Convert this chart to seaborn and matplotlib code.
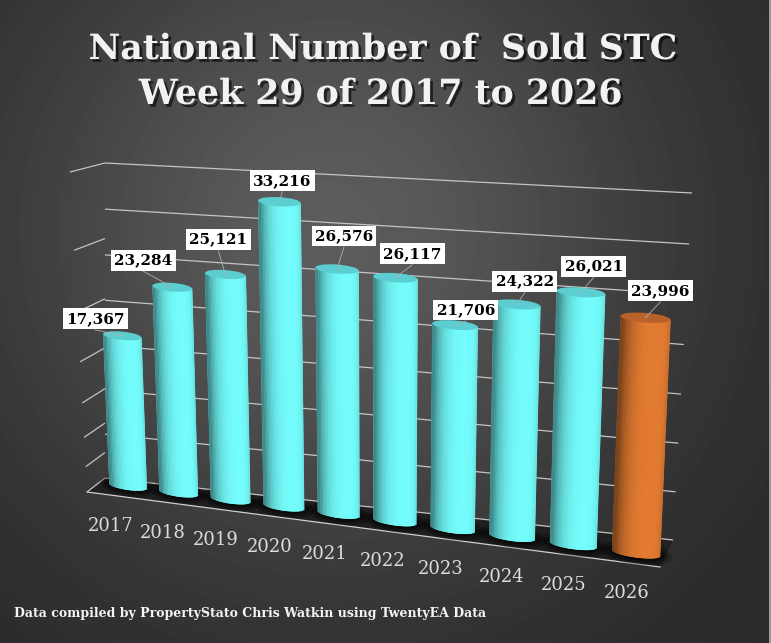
import numpy as np
import seaborn as sns
import matplotlib.pyplot as plt
import matplotlib.colors as mcolors
import matplotlib.transforms as mtransforms
import matplotlib.patheffects as pe
from matplotlib.patches import Ellipse, Rectangle

# Data
YEARS = [2017, 2018, 2019, 2020, 2021, 2022, 2023, 2024, 2025, 2026]
SOLD_STC = [17367, 23284, 25121, 33216, 26576, 26117, 21706, 24322, 26021, 23996]
GRID_LEVELS = [0, 5000, 10000, 15000, 20000, 25000, 30000, 35000]

BAR_COLORS = ['#74fbfb'] * 9 + ['#e27b31']
CAP_COLORS = ['#5ccdd0'] * 9 + ['#b8622a']

W, H = 771, 643
BAR_W = 0.75
EH = 950          # cylinder cap height, in value units
N_STRIPES = 30

# offsets (px) of the value boxes from the top of each cylinder
LABEL_OFFSETS = [(-27, -17), (-29, -27), (-7, -35), (3, -21), (7, -33),
                 (17, -24), (11, -15), (8, -23), (13, -26), (15, -27)]


def homography(src, dst):
    A, b = [], []
    for (x, y), (u, v) in zip(src, dst):
        A.append([x, y, 1, 0, 0, 0, -u * x, -u * y])
        b.append(u)
        A.append([0, 0, 0, x, y, 1, -v * x, -v * y])
        b.append(v)
    h = np.linalg.solve(np.array(A, float), np.array(b, float))
    return np.append(h, 1).reshape(3, 3)


class PlaneTransform(mtransforms.Transform):
    """Perspective mapping of a flat plane of the fake 3D scene to pixels."""
    input_dims = 2
    output_dims = 2
    is_separable = False

    def __init__(self, src, dst):
        super().__init__()
        self.H = homography(src, dst)

    def transform_non_affine(self, values):
        pts = np.atleast_2d(np.asarray(values, dtype=float))
        hom = np.column_stack([pts, np.ones(len(pts))]) @ self.H.T
        return hom[:, :2] / hom[:, 2:3]


UNIT = [(0, 0), (1, 0), (0, 35), (1, 35)]
bar_plane = mtransforms.Affine2D().scale(1, 1e-3) + PlaneTransform(
    [(0, 0), (9, 0), (0, 35), (9, 35)], [(128, 486), (636, 553), (116, 176), (650, 204)])
back_plane = mtransforms.Affine2D().scale(1, 1e-3) + PlaneTransform(
    UNIT, [(105, 478), (673, 540), (105, 163), (692, 193)])
side_plane = mtransforms.Affine2D().scale(1, 1e-3) + PlaneTransform(
    UNIT, [(87, 492), (105, 478), (70, 172), (105, 163)])
floor_plane = PlaneTransform([(0, 0), (1, 0), (0, 1), (1, 1)],
                             [(87, 492), (660, 567), (105, 478), (673, 540)])

plt.rcParams['font.family'] = 'DejaVu Serif'

fig = plt.figure(figsize=(W / 100, H / 100), dpi=100)
ax = fig.add_axes([0, 0, 1, 1])

T_bar = bar_plane + ax.transData
T_back = back_plane + ax.transData
T_side = side_plane + ax.transData
T_floor = floor_plane + ax.transData

# radial grey background
yy, xx = np.mgrid[0:H, 0:W]
r = np.hypot(xx - 330, yy - 230)
bg = 0.16 + 0.2 * np.exp(-(r / 330) ** 2)
ax.imshow(bg, extent=(0, W, H, 0), cmap='gray', vmin=0, vmax=1,
          aspect='auto', zorder=0, interpolation='bilinear')

# floor and walls
floor = Rectangle((0, 0), 1, 1, facecolor='#202020', edgecolor='none', zorder=1.5)
ax.add_patch(floor)
floor.set_transform(T_floor)
ax.plot([0, 1], [0, 0], color='#cfcfcf', lw=0.9, zorder=2, transform=T_floor)

back = ax.hlines(GRID_LEVELS, 0, 1, colors='#c4c4c4', linewidth=0.9, zorder=2)
back.set_transform(T_back)
side = ax.hlines(GRID_LEVELS, 0, 1, colors='#c4c4c4', linewidth=0.9, zorder=2)
side.set_transform(T_side)

# shadows on the floor
for i in range(len(YEARS)):
    for sw, sh, a in [(1.5, 2.6, 0.25), (1.3, 2.0, 0.3), (1.12, 1.5, 0.4)]:
        ax.add_patch(Ellipse((i, 0), BAR_W * sw, EH * sh, facecolor='black',
                             alpha=a, edgecolor='none', zorder=3, transform=T_bar))

# cylinder bodies
n_before = len(ax.patches)
hue = [str(y) for y in YEARS]
sns.barplot(x=YEARS, y=SOLD_STC, hue=hue, palette=dict(zip(hue, BAR_COLORS)),
            width=BAR_W, saturation=1, legend=False, linewidth=0, zorder=4, ax=ax)
for p in ax.patches[n_before:]:
    p.set_transform(T_bar)

for i in range(len(YEARS)):
    ax.add_patch(Ellipse((i, 0), BAR_W, EH, facecolor=BAR_COLORS[i],
                         edgecolor='none', zorder=4, transform=T_bar))

# shading stripes (opaque) so the bars look like cylinders
t = -1 + (2 * np.arange(N_STRIPES) + 1) / N_STRIPES
light = np.clip(np.cos(np.arcsin(t) - 0.5), 0, 1)
shade = 1 - 0.45 * (1 - light) ** 1.4
stripe_x, stripe_bottom, stripe_height, stripe_color = [], [], [], []
for i, val in enumerate(SOLD_STC):
    base = np.array(mcolors.to_rgb(BAR_COLORS[i]))
    for k in range(N_STRIPES):
        b = -EH / 2 * np.sqrt(1 - t[k] ** 2)
        stripe_x.append(i + t[k] * BAR_W / 2)
        stripe_bottom.append(b)
        stripe_height.append(val - b)
        stripe_color.append(tuple(base * shade[k]))
stripes = ax.bar(stripe_x, stripe_height, width=BAR_W / N_STRIPES * 1.35,
                 bottom=stripe_bottom, color=stripe_color, linewidth=0, zorder=5)
for p in stripes:
    p.set_transform(T_bar)

# caps, value boxes and year labels
for i, (year, val) in enumerate(zip(YEARS, SOLD_STC)):
    ax.add_patch(Ellipse((i, val), BAR_W, EH, facecolor=CAP_COLORS[i],
                         edgecolor='none', zorder=6, transform=T_bar))
    px, py = bar_plane.transform([(i, val)])[0]
    dx, dy = LABEL_OFFSETS[i]
    ax.plot([px, px + dx], [py, py + dy + 11], color='#b0b0b0', lw=0.6, zorder=7)
    ax.text(px + dx, py + dy, f"{val:,}", ha='center', va='center', fontsize=11,
            fontweight='bold', color='black', zorder=8,
            bbox=dict(boxstyle='square,pad=0.22', fc='white', ec='none'))
    bx, by = bar_plane.transform([(i, 0)])[0]
    ax.text(bx - 17 + 0.9 * i, by + 40, str(year), ha='center', va='center',
            fontsize=13, color='#dcdcdc', zorder=8)

# thin light edge on the right
ax.add_patch(Rectangle((769, 0), 2, H, facecolor='#9a9a9a', edgecolor='none', zorder=9))

ax.set_xlim(0, W)
ax.set_ylim(H, 0)
ax.set_axis_off()

shadow = [pe.withSimplePatchShadow(offset=(2, -2), shadow_rgbFace='black', alpha=0.6)]
fig.text(383 / W, 1 - 49 / H, "National Number of  Sold STC", ha='center', va='center',
         fontsize=25, fontweight='bold', color='#f2f2f2', path_effects=shadow)
fig.text(381 / W, 1 - 94 / H, "Week 29 of 2017 to 2026", ha='center', va='center',
         fontsize=25, fontweight='bold', color='#f2f2f2', path_effects=shadow)
fig.text(14 / W, 1 - 614 / H, "Data compiled by PropertyStato Chris Watkin using TwentyEA Data",
         ha='left', va='center', fontsize=9, fontweight='bold', color='#f4f4f4')

fig.savefig('out.png', dpi=100)
